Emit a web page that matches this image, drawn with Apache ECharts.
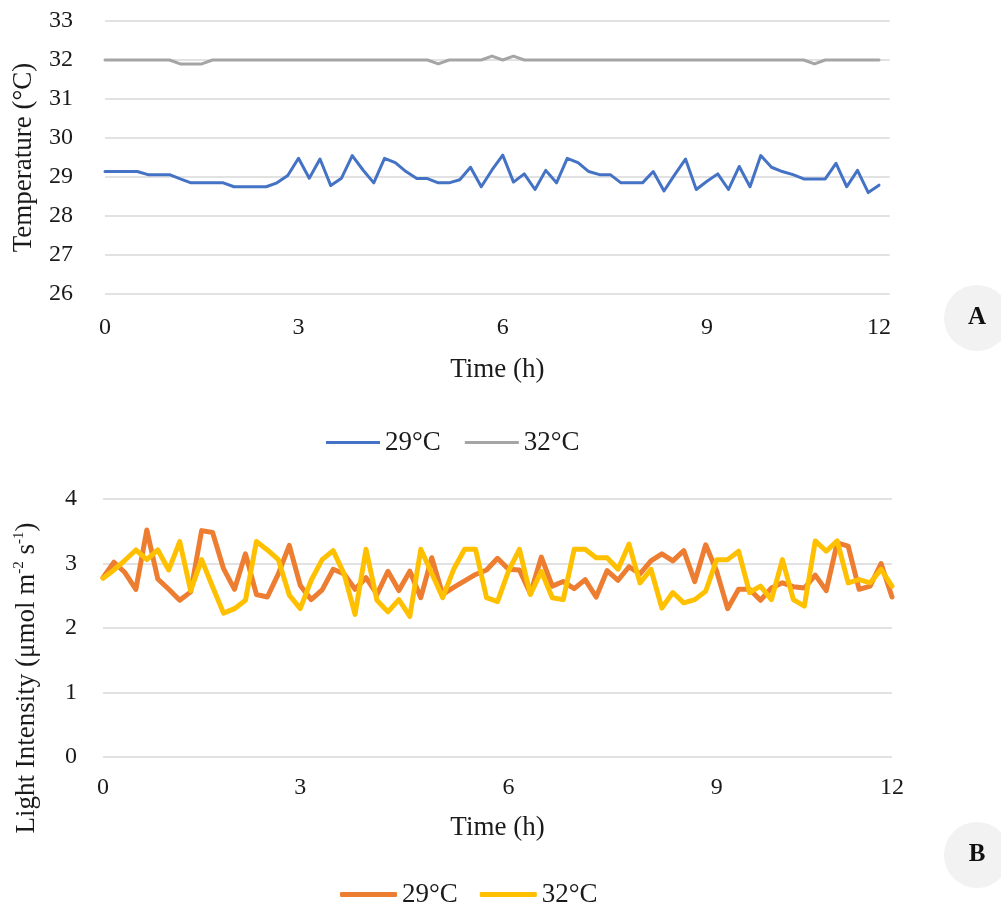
<!DOCTYPE html>
<html>
<head>
<meta charset="utf-8">
<script src="https://cdn.jsdelivr.net/npm/echarts@6/dist/echarts.min.js"></script>
<style>
  html, body { margin: 0; padding: 0; background: #ffffff; }
  #tempChart { position: absolute; left: 0; top: 0; width: 1001px; height: 460px; }
  #lightChart { position: absolute; left: 0; top: 460px; width: 1001px; height: 449px; }
</style>
</head>
<body>
<div id="tempChart"></div>
<div id="lightChart"></div>
<script>
// Samples every 10 minutes over 12 hours (73 readings)
const sampleCount = 73;
const tickLabels = ['0', '3', '6', '9', '12'];
const tickIndex = [0, 18, 37, 56, 72];
const seriesNames = ['29°C', '32°C'];

// Panel A: temperature (°C)
const temp29 = [
  29.14, 29.14, 29.14, 29.14, 29.06, 29.06, 29.06, 28.95, 28.85, 28.85,
  28.85, 28.85, 28.75, 28.75, 28.75, 28.75, 28.85, 29.04, 29.48, 28.97,
  29.46, 28.78, 28.97, 29.55, 29.18, 28.85, 29.48, 29.37, 29.14, 28.96,
  28.96, 28.85, 28.85, 28.93, 29.25, 28.75, 29.18, 29.56, 28.87, 29.08,
  28.68, 29.17, 28.85, 29.48, 29.37, 29.14, 29.06, 29.06, 28.85, 28.85,
  28.85, 29.14, 28.64, 29.06, 29.46, 28.68, 28.89, 29.08, 28.68, 29.27,
  28.75, 29.55, 29.25, 29.14, 29.06, 28.95, 28.95, 28.95, 29.35, 28.75,
  29.17, 28.60, 28.79
];
const temp32 = [
  32.0, 32.0, 32.0, 32.0, 32.0, 32.0, 32.0, 31.9, 31.9, 31.9,
  32.0, 32.0, 32.0, 32.0, 32.0, 32.0, 32.0, 32.0, 32.0, 32.0,
  32.0, 32.0, 32.0, 32.0, 32.0, 32.0, 32.0, 32.0, 32.0, 32.0,
  32.0, 31.9, 32.0, 32.0, 32.0, 32.0, 32.1, 32.0, 32.1, 32.0,
  32.0, 32.0, 32.0, 32.0, 32.0, 32.0, 32.0, 32.0, 32.0, 32.0,
  32.0, 32.0, 32.0, 32.0, 32.0, 32.0, 32.0, 32.0, 32.0, 32.0,
  32.0, 32.0, 32.0, 32.0, 32.0, 32.0, 31.9, 32.0, 32.0, 32.0,
  32.0, 32.0, 32.0
];

// Panel B: light intensity (µmol m-2 s-1)
const light29 = [
  2.78, 3.02, 2.86, 2.60, 3.52, 2.76, 2.60, 2.43, 2.56, 3.51,
  3.48, 2.92, 2.60, 3.15, 2.52, 2.48, 2.84, 3.28, 2.66, 2.44,
  2.59, 2.91, 2.84, 2.60, 2.78, 2.52, 2.88, 2.58, 2.88, 2.47,
  3.09, 2.52, 2.63, 2.73, 2.83, 2.90, 3.08, 2.91, 2.90, 2.53,
  3.10, 2.65, 2.72, 2.61, 2.75, 2.48, 2.89, 2.74, 2.95, 2.84,
  3.04, 3.15, 3.04, 3.20, 2.72, 3.29, 2.88, 2.30, 2.60, 2.60,
  2.43, 2.62, 2.70, 2.64, 2.62, 2.82, 2.58, 3.32, 3.27, 2.60,
  2.65, 3.00, 2.48
];
const light32 = [
  2.77, 2.90, 3.05, 3.21, 3.06, 3.21, 2.90, 3.34, 2.58, 3.06,
  2.64, 2.23, 2.30, 2.43, 3.34, 3.21, 3.06, 2.51, 2.30, 2.74,
  3.06, 3.20, 2.84, 2.21, 3.22, 2.43, 2.25, 2.44, 2.18, 3.22,
  2.85, 2.47, 2.91, 3.22, 3.22, 2.47, 2.41, 2.88, 3.22, 2.52,
  2.88, 2.47, 2.44, 3.22, 3.22, 3.09, 3.09, 2.91, 3.30, 2.70,
  2.91, 2.31, 2.55, 2.39, 2.44, 2.57, 3.06, 3.06, 3.19, 2.55,
  2.65, 2.44, 3.06, 2.44, 2.34, 3.35, 3.19, 3.35, 2.70, 2.75,
  2.70, 2.91, 2.65
];

const FONT = '"Liberation Serif", "Times New Roman", serif';
const TEXT = '#1a1a1a';
const GRID_LINE = '#d9d9d9';

function timeAxis(count, labelMargin, nameGap) {
  return {
    type: 'category',
    boundaryGap: false,
    data: Array.from({ length: count }, (_, i) => i),
    name: 'Time (h)',
    nameLocation: 'middle',
    nameGap: nameGap,
    nameTextStyle: { fontFamily: FONT, fontSize: 27, color: TEXT },
    axisLine: { show: false },
    axisTick: { show: false },
    splitLine: { show: false },
    axisLabel: {
      interval: 0,
      margin: labelMargin,
      fontFamily: FONT,
      fontSize: 24,
      color: TEXT,
      formatter: (v, idx) => {
        const k = tickIndex.indexOf(idx);
        return k >= 0 ? tickLabels[k] : '';
      }
    }
  };
}

function badge(letter, cx, cy) {
  return {
    type: 'group',
    children: [
      { type: 'circle', shape: { cx: cx, cy: cy, r: 33 }, style: { fill: '#f2f2f2' } },
      {
        type: 'text', x: cx, y: cy,
        style: {
          text: letter, fill: '#111', font: 'bold 25px ' + FONT,
          align: 'center', verticalAlign: 'middle'
        }
      }
    ]
  };
}

function lineSeries(name, data, color, width) {
  return {
    name: name,
    type: 'line',
    data: data,
    color: color,
    showSymbol: false,
    symbol: 'none',
    lineStyle: { color: color, width: width, cap: 'round', join: 'round' },
    emphasis: { disabled: true },
    animation: false
  };
}

// ---- Panel A ----
const tempChart = echarts.init(document.getElementById('tempChart'), null, { renderer: 'canvas' });
tempChart.setOption({
  animation: false,
  grid: { left: 105, top: 21, width: 784.75, height: 273 },
  xAxis: timeAxis(sampleCount + 1, 22, 62),
  yAxis: {
    type: 'value', min: 26, max: 33, interval: 1,
    name: 'Temperature (°C)',
    nameLocation: 'middle',
    nameGap: 68,
    nameTextStyle: { fontFamily: FONT, fontSize: 27, color: TEXT },
    axisLine: { show: false },
    axisTick: { show: false },
    axisLabel: { fontFamily: FONT, fontSize: 24, color: TEXT, margin: 32 },
    splitLine: { lineStyle: { color: GRID_LINE, width: 1.5 } }
  },
  legend: {
    left: 326, top: 429,
    padding: 0,
    data: seriesNames,
    icon: 'rect',
    itemWidth: 54, itemHeight: 3,
    itemGap: 24,
    textStyle: { fontFamily: FONT, fontSize: 27, color: TEXT },
    selectedMode: false
  },
  graphic: [badge('A', 977, 318)],
  series: [
    lineSeries(seriesNames[0], temp29, '#4472c4', 3),
    lineSeries(seriesNames[1], temp32, '#a5a5a5', 3)
  ]
});

// ---- Panel B ----
const lightChart = echarts.init(document.getElementById('lightChart'), null, { renderer: 'canvas' });
lightChart.setOption({
  animation: false,
  grid: { left: 103, top: 39, width: 789, height: 258 },
  xAxis: timeAxis(sampleCount, 19, 57),
  yAxis: {
    type: 'value', min: 0, max: 4, interval: 1,
    name: '{n|Light Intensity (μmol m}{s|-2}{n| s}{s|-1}{n|)}',
    nameLocation: 'middle',
    nameGap: 61,
    nameTextStyle: {
      padding: [0, 100, 0, 0],
      rich: {
        n: { fontFamily: FONT, fontSize: 27, color: TEXT, lineHeight: 30 },
        s: { fontFamily: FONT, fontSize: 15, color: TEXT, verticalAlign: 'top', lineHeight: 15 }
      }
    },
    axisLine: { show: false },
    axisTick: { show: false },
    axisLabel: { fontFamily: FONT, fontSize: 24, color: TEXT, margin: 26 },
    splitLine: { lineStyle: { color: GRID_LINE, width: 1.5 } }
  },
  legend: {
    left: 340, top: 421,
    padding: 0,
    data: seriesNames,
    icon: 'roundRect',
    itemWidth: 57, itemHeight: 5,
    itemGap: 22,
    textStyle: { fontFamily: FONT, fontSize: 27, color: TEXT },
    selectedMode: false
  },
  graphic: [badge('B', 977, 395)],
  series: [
    lineSeries(seriesNames[0], light29, '#ed7d31', 5),
    lineSeries(seriesNames[1], light32, '#ffc000', 5)
  ]
});
</script>
</body>
</html>
